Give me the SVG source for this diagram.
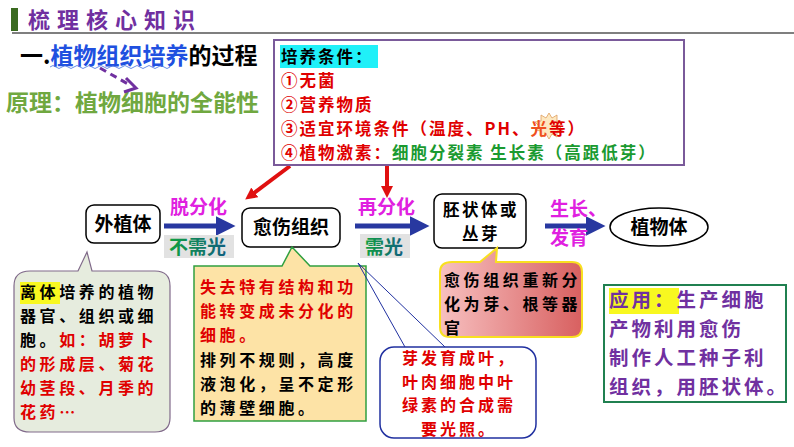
<svg xmlns="http://www.w3.org/2000/svg" width="794" height="447" viewBox="0 0 794 447">
<style>
text{font-family:"Noto Sans CJK SC","Liberation Sans",sans-serif;font-weight:bold}
.node{fill:#fff;stroke:#000;stroke-width:1.5}
.lbl{font-size:19px;fill:#000}
.mag{fill:#e020e0;font-size:19px}
.t16{font-size:16px;letter-spacing:3.6px}
.t19{font-size:16px;letter-spacing:3px}
.red{fill:#e00000}
.blk{fill:#000}
.cond{font-size:16.5px;letter-spacing:2px}
.app{font-size:19.5px;letter-spacing:3px;fill:#7030a0}
</style>
<defs>
<marker id="bah" markerWidth="4" markerHeight="4" refX="2.5" refY="2" orient="auto"><path d="M0,0L4,2L0,4z" fill="#2838a0"/></marker>
<marker id="rah" markerWidth="3" markerHeight="3" refX="1.5" refY="1.5" orient="auto"><path d="M0,0L3,1.5L0,3z" fill="#e01010"/></marker>
<linearGradient id="pk" x1="0" x2="1"><stop offset="0" stop-color="#f7c0c0"/><stop offset="1" stop-color="#d86060"/></linearGradient>
<linearGradient id="gt" x1="0" x2="1"><stop offset="0" stop-color="#10a040"/><stop offset="1" stop-color="#106080"/></linearGradient>
</defs>
<g id="title">
<rect x="11" y="8" width="7" height="23" fill="#3a6a20"/>
<text x="28" y="28" font-size="22" fill="#7030a0" letter-spacing="7">梳理核心知识</text>
<line x1="12" y1="33" x2="794" y2="33" stroke="#555" stroke-width="1.5"/>
</g>
<g id="heading">
<text x="20" y="64" font-size="23" fill="#000">一.<tspan fill="#2050e0">植物组织培养</tspan>的过程</text>
<path d="M50,67 q3,-3 6,0 t6,0 t6,0 t6,0 t6,0 t6,0 t6,0 t6,0 t6,0 t6,0 t6,0 t6,0 t6,0 t6,0 t6,0 t6,0 t6,0 t6,0 t6,0 t6,0" fill="none" stroke="#4070e0" stroke-width="0.8"/>
<text x="6" y="111" font-size="23" fill="#70a840">原理：植物细胞的全能性</text>
</g>
<g id="connectors">
<path d="M100,68 L128,84" stroke="#7030a0" stroke-width="3" stroke-dasharray="7,5" fill="none"/>
<path d="M126,78 L136,88 L124,92" stroke="#7030a0" stroke-width="3" fill="none"/>
<line x1="290" y1="166" x2="250" y2="196" stroke="#e01010" stroke-width="4" marker-end="url(#rah)"/>
<line x1="387" y1="166" x2="387" y2="192" stroke="#e01010" stroke-width="4" marker-end="url(#rah)"/>
<line x1="164" y1="226" x2="228" y2="226" stroke="#2838a0" stroke-width="5" marker-end="url(#bah)"/>
<line x1="355" y1="226" x2="422" y2="226" stroke="#2838a0" stroke-width="5" marker-end="url(#bah)"/>
<line x1="545" y1="226" x2="598" y2="226" stroke="#2838a0" stroke-width="5" marker-end="url(#bah)"/>
<text x="170" y="214" class="mag">脱分化</text>
<rect x="164" y="235" width="70" height="23" fill="#e2e2e2"/>
<text x="169" y="254" font-size="19" fill="url(#gt)">不需光</text>
<text x="358" y="214" class="mag">再分化</text>
<rect x="360" y="234" width="50" height="24" fill="#e2e2e2"/>
<text x="365" y="254" font-size="19" fill="url(#gt)">需光</text>
<text class="mag"><tspan x="550" y="216">生长、</tspan><tspan x="550" y="245">发育</tspan></text>
</g>
<g id="conditions">
<rect x="274" y="40" width="410" height="125" fill="#fff" stroke="#7a5a9a" stroke-width="2"/>
<rect x="280" y="45" width="98" height="23" fill="#20f0f8"/>
<path d="M549,113 l3,5 l5,-3 l0,6 l6,1 l-4,4 l4,4 l-6,1 l0,6 l-5,-3 l-3,5 l-3,-5 l-5,3 l0,-6 l-6,-1 l4,-4 l-4,-4 l6,-1 l0,-6 l5,3z" fill="#fde8c0" stroke="#e0a060" stroke-width="0.8"/>
<text class="cond red"><tspan x="281" y="63" fill="#000">培养条件：</tspan><tspan x="281" y="87">①无菌</tspan><tspan x="281" y="111">②营养物质</tspan><tspan x="281" y="135">③适宜环境条件（温度、PH、</tspan><tspan fill="#f05020">光</tspan><tspan>等）</tspan><tspan x="281" y="159">④植物激素：</tspan><tspan fill="#1a9a30">细胞分裂素 生长素（高跟低芽）</tspan></text>
</g>
<g id="n-explant">
<rect x="86" y="205" width="74" height="38" rx="8" class="node"/>
<text x="123" y="231" text-anchor="middle" class="lbl">外植体</text>
</g>
<g id="n-callus">
<rect x="242" y="208" width="98" height="39" rx="8" class="node"/>
<text x="291" y="234" text-anchor="middle" class="lbl">愈伤组织</text>
</g>
<g id="n-embryo">
<rect x="434" y="194" width="92" height="54" rx="8" class="node"/>
<text text-anchor="middle" font-size="16.5" letter-spacing="2.5" fill="#000"><tspan x="481" y="216">胚状体或</tspan><tspan x="481" y="240">丛芽</tspan></text>
</g>
<g id="n-plant">
<ellipse cx="659" cy="227" rx="49" ry="19" class="node"/>
<text x="659" y="234" text-anchor="middle" class="lbl">植物体</text>
</g>
<g id="c-explant">
<path d="M30,271 H78 L87,252 L92,271 H155 Q170,271 170,286 V418 Q170,432 155,432 H30 Q14,432 14,418 V286 Q14,271 30,271z" fill="#e6ecde" stroke="#806a8a" stroke-width="1.2"/>
<rect x="20" y="282" width="40" height="22" fill="#f8f820"/>
<text class="t16 red"><tspan x="20" y="298" fill="#000">离体培养的植物</tspan><tspan x="20" y="322" fill="#000">器官、组织或细</tspan><tspan x="20" y="346" fill="#000">胞。</tspan><tspan>如：胡萝卜</tspan><tspan x="20" y="370">的形成层、菊花</tspan><tspan x="20" y="394">幼茎段、月季的</tspan><tspan x="20" y="418">花药…</tspan></text>
</g>
<g id="c-callus">
<path d="M194,266 H282 L292,247 L310,266 H366 V421 H194z" fill="#fde3a6" stroke="#30a040" stroke-width="1.5"/>
<text class="t16 red"><tspan x="200" y="293">失去特有结构和功</tspan><tspan x="200" y="317">能转变成未分化的</tspan><tspan x="200" y="341">细胞。</tspan><tspan x="200" y="366" fill="#000">排列不规则，高度</tspan><tspan x="200" y="390" fill="#000">液泡化，呈不定形</tspan><tspan x="200" y="414" fill="#000">的薄壁细胞。</tspan></text>
</g>
<g id="c-light">
<path d="M405,347 L358,263 L445,347" fill="none" stroke="#2030a0" stroke-width="1"/>
<rect x="380" y="347" width="156" height="91" rx="14" fill="#fff" stroke="#2030a0" stroke-width="1.5"/>
<text text-anchor="middle" class="t19 red"><tspan x="459" y="364">芽发育成叶，</tspan><tspan x="459" y="387.5">叶肉细胞中叶</tspan><tspan x="459" y="411">绿素的合成需</tspan><tspan x="459" y="434.5">要光照。</tspan></text>
</g>
<g id="c-embryo">
<path d="M452,262 H480 L497,248 L496,262 H572 Q582,262 582,272 V327 Q582,337 572,337 H450 Q440,337 440,327 V272 Q440,262 452,262z" fill="url(#pk)" stroke="#f8e020" stroke-width="2"/>
<text class="t16 blk"><tspan x="444" y="286">愈伤组织重新分</tspan><tspan x="444" y="310">化为芽、根等器</tspan><tspan x="444" y="334">官</tspan></text>
</g>
<g id="application">
<rect x="604" y="285" width="182" height="117" fill="#fff" stroke="#208050" stroke-width="2"/>
<rect x="609" y="288" width="70" height="26" fill="#f8f820"/>
<text class="app"><tspan x="609" y="307">应用：生产细胞</tspan><tspan x="609" y="336">产物利用愈伤</tspan><tspan x="609" y="365">制作人工种子利</tspan><tspan x="609" y="394">组织，用胚状体。</tspan></text>
</g>
</svg>
